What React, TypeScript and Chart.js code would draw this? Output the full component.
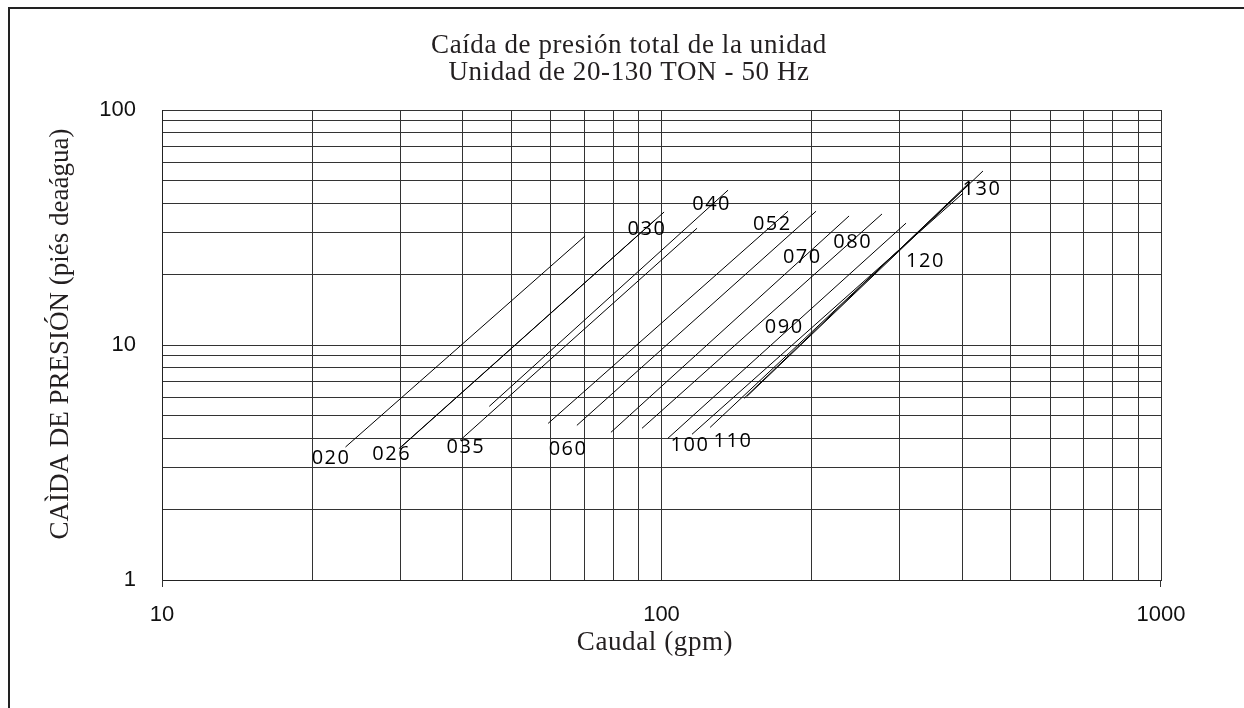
import { useEffect, useRef } from "react";
import { Chart, registerables } from "chart.js";

Chart.register(...registerables);

// ---- Data ----
const models = ["020", "026", "030", "035", "040", "052", "060", "070", "080", "090", "100", "110", "120", "130"];
const flowStart = [23.3, 29.8, 30.2, 39.5, 45.2, 59.3, 67.7, 79.2, 91.4, 103.0, 115.1, 125.1, 146.3, 148.3];
const dropStart = [3.68, 3.62, 3.70, 3.93, 5.48, 4.64, 4.55, 4.25, 4.42, 4.01, 4.17, 4.46, 5.93, 6.05];
const flowEnd = [70.3, 97.0, 101.2, 117.8, 135.9, 179.2, 203.9, 237.4, 276.3, 308.7, 401.5, 410.9, 414.7, 440.1];
const dropEnd = [29.1, 34.0, 36.8, 31.4, 45.6, 37.1, 37.1, 35.4, 36.1, 33.0, 44.3, 47.9, 49.4, 55.0];
const labelFlow = [21.7, 28.7, 93.1, 40.4, 125.4, 165.9, 64.7, 190.5, 240.4, 175.3, 113.5, 138.4, 336.1, 436.1];
const labelDrop = [3.31, 3.42, 31.1, 3.68, 39.8, 32.5, 3.6, 23.6, 27.4, 11.9, 3.74, 3.9, 22.8, 46.1];

const xTicks = [10, 20, 30, 40, 50, 60, 70, 80, 90, 100, 200, 300, 400, 500, 600, 700, 800, 900, 1000];
const yTicks = [1, 2, 3, 4, 5, 6, 7, 8, 9, 10, 20, 30, 40, 50, 60, 70, 80, 90, 100];
const xLabels = [10, 100, 1000];
const yLabels = [1, 10, 100];

const titleLines = ["Caída de presión total de la unidad", "Unidad de 20-130 TON - 50 Hz"];
const xTitle = "Caudal (gpm)";
const yTitle = "CAÌDA DE PRESIÓN (piés deaágua)";

const SERIF = '"Liberation Serif", "Times New Roman", serif';
const SANS = '"Liberation Sans", Arial, sans-serif';

const annotations = {
  id: "annotations",
  afterDraw(chart: any) {
    const ctx = chart.ctx as CanvasRenderingContext2D;
    const xs = chart.scales.x;
    const ys = chart.scales.y;
    const area = chart.chartArea;
    ctx.save();

    // page frame
    ctx.strokeStyle = "#222";
    ctx.lineWidth = 2;
    ctx.beginPath();
    ctx.moveTo(9, chart.height);
    ctx.lineTo(9, 8);
    ctx.lineTo(chart.width, 8);
    ctx.stroke();

    // small end ticks below the x axis
    ctx.lineWidth = 1;
    ctx.strokeStyle = "#333";
    ctx.beginPath();
    ctx.moveTo(Math.round(area.left) + 0.5, area.bottom);
    ctx.lineTo(Math.round(area.left) + 0.5, area.bottom + 7);
    ctx.moveTo(Math.round(area.right) - 0.5, area.bottom);
    ctx.lineTo(Math.round(area.right) - 0.5, area.bottom + 7);
    ctx.stroke();

    // model labels
    ctx.fillStyle = "#000";
    ctx.font = '20px "Open Sans", sans-serif';
    (ctx as any).letterSpacing = "1.5px";
    ctx.textAlign = "center";
    ctx.textBaseline = "middle";
    models.forEach((m, i) => {
      ctx.fillText(m, xs.getPixelForValue(labelFlow[i]) + 1, ys.getPixelForValue(labelDrop[i]));
    });

    // titles
    ctx.fillStyle = "#231f20";
    ctx.font = `27px ${SERIF}`;
    (ctx as any).letterSpacing = "0.6px";
    ctx.textBaseline = "alphabetic";
    ctx.fillText(titleLines[0], 629, 53);
    ctx.fillText(titleLines[1], 629, 80);
    ctx.fillText(xTitle, 655, 650);

    (ctx as any).letterSpacing = "0px";
    ctx.translate(68, 334);
    ctx.rotate(-Math.PI / 2);
    ctx.fillText(yTitle, 0, 0);
    ctx.restore();
  },
};

export default function App() {
  const canvasRef = useRef<HTMLCanvasElement | null>(null);

  useEffect(() => {
    let chart: Chart | null = null;
    let cancelled = false;

    const build = () => {
      if (cancelled || !canvasRef.current) return;
      const datasets = models.map((m, i) => ({
        label: m,
        data: [
          { x: flowStart[i], y: dropStart[i] },
          { x: flowEnd[i], y: dropEnd[i] },
        ],
        borderColor: "#000",
        borderWidth: 1,
        pointRadius: 0,
        showLine: true,
        fill: false,
      }));

      chart = new Chart(canvasRef.current, {
        type: "scatter",
        data: { datasets },
        options: {
          responsive: false,
          animation: false,
          devicePixelRatio: 1,
          layout: { padding: { top: 110, right: 83, left: 0, bottom: 0 } },
          plugins: {
            legend: { display: false },
            tooltip: { enabled: false },
            title: { display: false },
          },
          scales: {
            x: {
              type: "logarithmic",
              min: 10,
              max: 1000,
              afterBuildTicks: (s: any) => {
                s.ticks = xTicks.map((v) => ({ value: v }));
              },
              afterFit: (s: any) => {
                s.height = 128;
              },
              ticks: {
                autoSkip: false,
                maxRotation: 0,
                padding: 22,
                color: "#111",
                font: { family: SANS, size: 22 },
                callback: (v: any) => (xLabels.includes(Number(v)) ? String(v) : ""),
              },
              grid: { color: "#333", lineWidth: 1, drawTicks: false },
              border: { color: "#222", width: 1 },
            },
            y: {
              type: "logarithmic",
              min: 1,
              max: 100,
              afterBuildTicks: (s: any) => {
                s.ticks = yTicks.map((v) => ({ value: v }));
              },
              afterFit: (s: any) => {
                s.width = 162;
              },
              ticks: {
                autoSkip: false,
                padding: 26,
                color: "#111",
                font: { family: SANS, size: 22 },
                callback: (v: any) => (yLabels.includes(Number(v)) ? String(v) : ""),
              },
              grid: { color: "#333", lineWidth: 1, drawTicks: false },
              border: { color: "#222", width: 1 },
            },
          },
        },
        plugins: [annotations],
      } as any);
    };

    const fontsReady = (document as any).fonts
      ? Promise.all([
          (document as any).fonts.load(`27px ${SERIF}`),
          (document as any).fonts.load('20px "Open Sans"'),
          (document as any).fonts.load(`22px ${SANS}`),
        ]).catch(() => null)
      : Promise.resolve(null);
    fontsReady.then(build);

    return () => {
      cancelled = true;
      if (chart) chart.destroy();
    };
  }, []);

  return (
    <div style={{ position: "fixed", left: 0, top: 0, width: 1244, height: 708, background: "#fff" }}>
      <canvas ref={canvasRef} width={1244} height={708} style={{ display: "block" }} />
    </div>
  );
}
